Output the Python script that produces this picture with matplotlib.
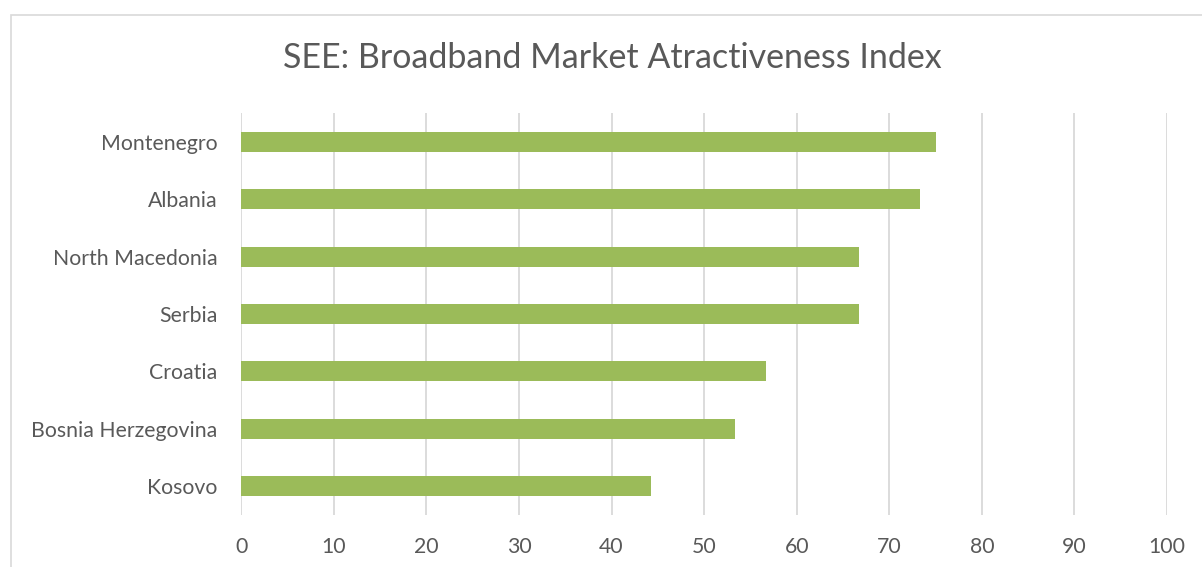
import matplotlib
matplotlib.use("Agg")
import matplotlib.pyplot as plt
from matplotlib.patches import Rectangle

countries = ["Montenegro", "Albania", "North Macedonia", "Serbia", "Croatia",
             "Bosnia Herzegovina", "Kosovo"]
values = [75.0, 73.3, 66.7, 66.7, 56.7, 53.3, 44.3]
xticks = [0, 10, 20, 30, 40, 50, 60, 70, 80, 90, 100]

plt.rcParams['font.family'] = ['Lato', 'DejaVu Sans']

fig = plt.figure(figsize=(12.02, 5.67), dpi=100)
fig.patch.set_facecolor("white")
ax = fig.add_axes([241.3 / 1202, 52 / 567, (1167 - 241.3) / 1202, 402 / 567])

ypos = list(range(len(countries)))[::-1]
ax.barh(ypos, values, height=0.35, color="#9BBB59", zorder=3)

ax.set_xlim(0, 100)
ax.set_ylim(-0.5, len(countries) - 0.5)
ax.set_xticks(xticks)
ax.set_xticklabels([str(t) for t in xticks])
ax.set_yticks(ypos)
ax.set_yticklabels(countries)
ax.grid(axis="x", color="#D9D9D9", linewidth=1.3, zorder=0)
for s in ax.spines.values():
    s.set_visible(False)
ax.tick_params(axis="both", length=0, labelsize=15.3, labelcolor="#595959")
ax.tick_params(axis="x", pad=16)
ax.tick_params(axis="y", pad=17)

fig.text(612 / 1202, 1 - 58 / 567, "SEE: Broadband Market Atractiveness Index",
         ha="center", va="center", fontsize=24.5, color="#595959")

fig.patches.append(Rectangle((10.7 / 1202, -0.1), 1.2, 0.1 + (567 - 14.7) / 567,
                             transform=fig.transFigure, fill=False,
                             edgecolor="#D9D9D9", linewidth=1.2))

fig.savefig("out.png", dpi=100, facecolor="white")
